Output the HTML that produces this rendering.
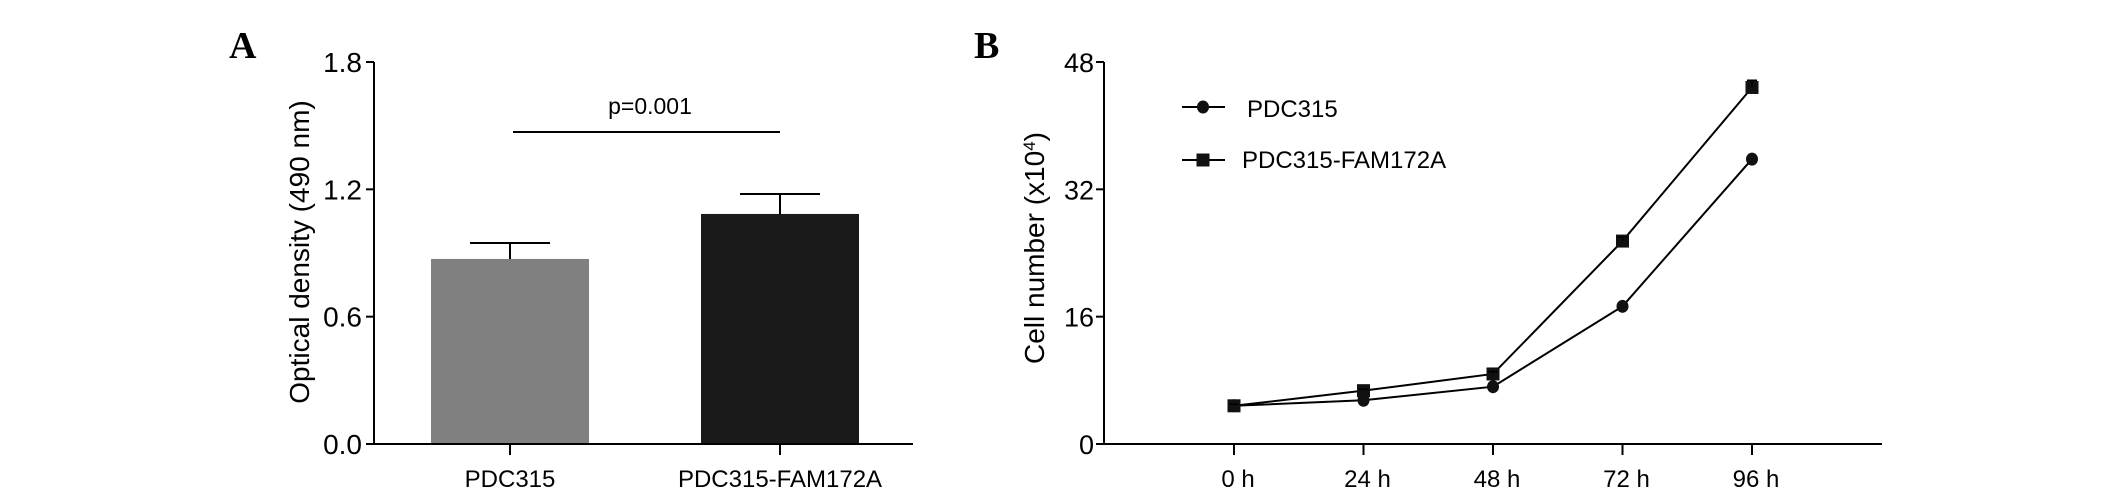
<!DOCTYPE html>
<html><head><meta charset="utf-8"><style>
html,body{margin:0;padding:0;background:#fff;}
svg{display:block;font-family:"Liberation Sans",Arial,sans-serif;}
</style></head><body>
<svg id="chart" width="2126" height="500" viewBox="0 0 2126 500">
<text x="229" y="58" font-family="Liberation Serif,serif" font-weight="bold" font-size="38">A</text>
<text x="974" y="58" font-family="Liberation Serif,serif" font-weight="bold" font-size="38">B</text>
<g id="panelA"></g>
<g id="panelB"></g>
</svg>
<script>
const barCategories = ["PDC315", "PDC315-FAM172A"];
const barValues = [0.872, 1.084];
const barErrors = [0.075, 0.094];
const barColors = ["#808080", "#1a1a1a"];
const barTicks = ["0.0", "0.6", "1.2", "1.8"];
const barTickValues = [0, 0.6, 1.2, 1.8];

const lineCategories = ["0 h", "24 h", "48 h", "72 h", "96 h"];
const seriesPDC = [4.8, 5.5, 7.2, 17.3, 35.8];
const seriesFAM = [4.8, 6.7, 8.8, 25.5, 44.8];
const errFAM = [0.2, 0.2, 0.3, 0.5, 0.9];
const lineTicks = ["0", "16", "32", "48"];
const lineTickValues = [0, 16, 32, 48];

const NS = "http://www.w3.org/2000/svg";
function mk(parent, tag, attrs, text) {
  const e = document.createElementNS(NS, tag);
  for (const k in attrs) e.setAttribute(k, attrs[k]);
  if (text !== undefined) e.textContent = text;
  parent.appendChild(e);
  return e;
}

// Panel A
(function(){
  const g = document.getElementById('panelA');
  const x0 = 374, x1 = 913, yTop = 62, yBot = 444, vmax = 1.8;
  const y = v => yBot - v / vmax * (yBot - yTop);
  const centers = [510, 780], bw = 158;
  barCategories.forEach((c, i) => {
    const cx = centers[i];
    const r = mk(g, 'rect', {x: cx - bw/2, y: y(barValues[i]), width: bw, height: yBot - y(barValues[i]), fill: barColors[i]});
    
    
    const top = y(barValues[i] + barErrors[i]);
    const eb = mk(g, 'path', {d: `M${cx} ${y(barValues[i])}V${top}M${cx-40} ${top}H${cx+40}`, stroke: '#000', 'stroke-width': 2, fill: 'none'});
    
    
    const t = mk(g, 'line', {x1: cx, x2: cx, y1: yBot, y2: yBot + 11, stroke: '#000', 'stroke-width': 2});
    
    
    const l = mk(g, 'text', {x: cx, y: 487, 'text-anchor': 'middle', 'font-size': 24}, c);
    
    
  });
  const ax = mk(g, 'path', {d: `M${x0} ${yTop}V${yBot}H${x1}`, stroke: '#000', 'stroke-width': 2, fill: 'none'});
  
  
  barTickValues.forEach((v, i) => {
    const tk = mk(g, 'line', {x1: x0 - 8, x2: x0, y1: y(v), y2: y(v), stroke: '#000', 'stroke-width': 2});
    
    
    const tl = mk(g, 'text', {x: x0 - 12, y: y(v) + 10, 'text-anchor': 'end', 'font-size': 28}, barTicks[i]);
    
    
  });
  const yt = mk(g, 'text', {x: 0, y: 0, 'text-anchor': 'middle', 'font-size': 28, transform: 'translate(309,252) rotate(-90)'}, 'Optical density (490 nm)');
  
  
  const sl = mk(g, 'line', {x1: 513, x2: 780, y1: 132, y2: 132, stroke: '#000', 'stroke-width': 2});
  
  
  const st = mk(g, 'text', {x: 650, y: 114, 'text-anchor': 'middle', 'font-size': 23}, 'p=0.001');
  
  
})();

// Panel B
(function(){
  const g = document.getElementById('panelB');
  const x0 = 1104, x1 = 1882, yTop = 62, yBot = 444, vmax = 48;
  const y = v => yBot - v / vmax * (yBot - yTop);
  const xFirst = 1234, step = 129.5;
  const x = i => xFirst + i * step;
  const ax = mk(g, 'path', {d: `M${x0} ${yTop}V${yBot}H${x1}`, stroke: '#000', 'stroke-width': 2, fill: 'none'});
  
  
  lineTickValues.forEach((v, i) => {
    const tk = mk(g, 'line', {x1: x0 - 8, x2: x0, y1: y(v), y2: y(v), stroke: '#000', 'stroke-width': 2});
    
    
    const tl = mk(g, 'text', {x: x0 - 10, y: y(v) + 10, 'text-anchor': 'end', 'font-size': 27}, lineTicks[i]);
    
    
  });
  lineCategories.forEach((c, i) => {
    const tk = mk(g, 'line', {x1: x(i), x2: x(i), y1: yBot, y2: yBot + 11, stroke: '#000', 'stroke-width': 2});
    
    
    const tl = mk(g, 'text', {x: x(i) + 4, y: 487, 'text-anchor': 'middle', 'font-size': 24}, c);
    
    
  });
  const yt = mk(g, 'text', {x: 0, y: 0, 'text-anchor': 'middle', 'font-size': 28, transform: 'translate(1044,248) rotate(-90)'});
  yt.innerHTML = 'Cell number (x10<tspan baseline-shift="super" font-size="17">4</tspan>)';
  
  
  function series(vals, shape, name) {
    const pts = vals.map((v, i) => `${x(i)},${y(v)}`).join(' ');
    const pl = mk(g, 'polyline', {points: pts, fill: 'none', stroke: '#000', 'stroke-width': 2});
    
    
    vals.forEach((v, i) => {
      let m;
      if (shape === 'circle') m = mk(g, 'ellipse', {cx: x(i), cy: y(v), rx: 6, ry: 6.5, fill: '#111'});
      else m = mk(g, 'rect', {x: x(i) - 6.5, y: y(v) - 6.5, width: 13, height: 13, fill: '#111'});
      
      
    });
  }
  series(seriesPDC, 'circle', 'pdc315');
  series(seriesFAM, 'square', 'pdc315-fam172a');
  seriesFAM.forEach((v, i) => {
    const e = mk(g, 'path', {d: `M${x(i)-5} ${y(v + errFAM[i])}H${x(i)+5}M${x(i)} ${y(v + errFAM[i])}V${y(v)}`, stroke: '#000', 'stroke-width': 1.5, fill: 'none'});
    
    
  });
  // legend
  const l1 = mk(g, 'g', {});
  
  
  mk(l1, 'line', {x1: 1182, x2: 1225, y1: 107, y2: 107, stroke: '#000', 'stroke-width': 2});
  mk(l1, 'ellipse', {cx: 1203, cy: 107, rx: 6, ry: 6.5, fill: '#111'});
  mk(l1, 'text', {x: 1247, y: 117, 'font-size': 24}, 'PDC315');
  const l2 = mk(g, 'g', {});
  
  
  mk(l2, 'line', {x1: 1182, x2: 1225, y1: 160, y2: 160, stroke: '#000', 'stroke-width': 2});
  mk(l2, 'rect', {x: 1196.5, y: 153.5, width: 13, height: 13, fill: '#111'});
  mk(l2, 'text', {x: 1242, y: 168, 'font-size': 24}, 'PDC315-FAM172A');
})();
</script>
</body></html>
